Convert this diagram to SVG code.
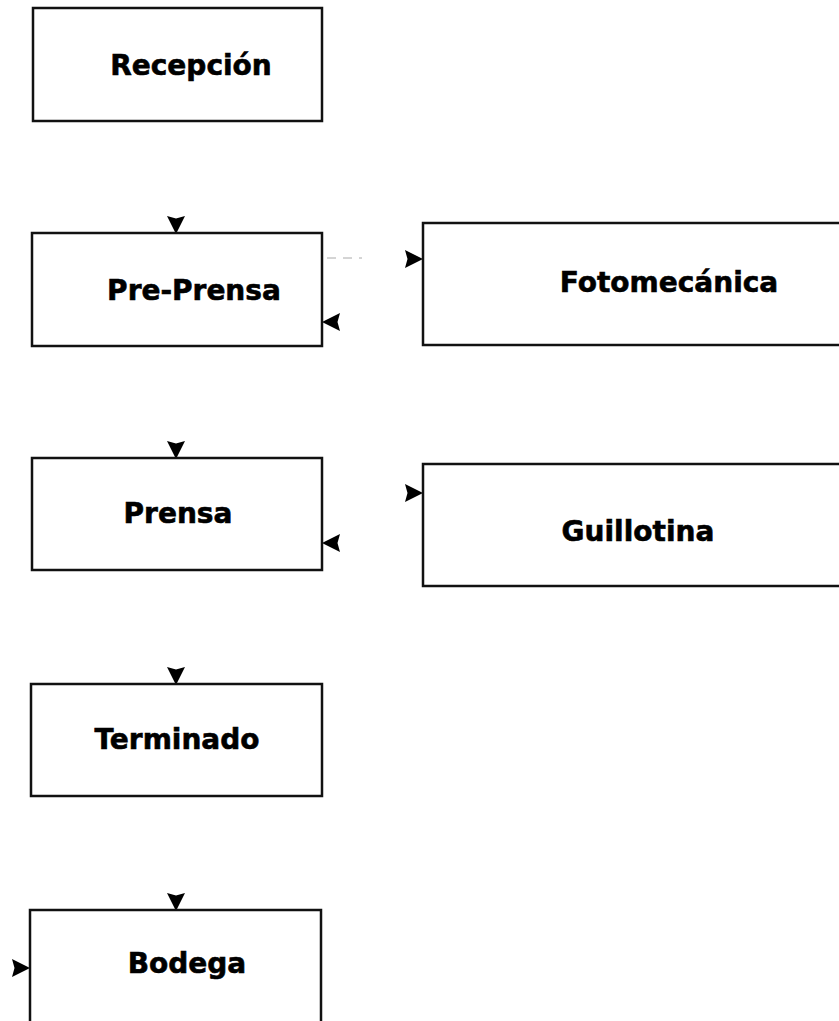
<svg xmlns="http://www.w3.org/2000/svg" width="839" height="1021" viewBox="0 0 839 1021">
<style>
.box{fill:#fff;stroke:#111;stroke-width:2.5}
.lbl{font-family:"DejaVu Sans","Liberation Sans",sans-serif;font-weight:bold;font-size:28px;fill:#000;stroke:#000;stroke-width:0.6;text-anchor:middle}
.conn{fill:none;stroke:none}
.faint{fill:none;stroke:#aaa;stroke-width:1;stroke-dasharray:9 7}
</style>
<defs>
<marker id="ah" markerUnits="userSpaceOnUse" markerWidth="22" markerHeight="22" refX="18" refY="9" orient="auto" overflow="visible">
<path d="M0,0 L18,9 L0,18 L2.5,9 Z" fill="#000"/>
</marker>
</defs>
<rect width="839" height="1021" fill="#fff"/>
<g id="connectors">
<path class="conn" d="M176,200 L176,234" marker-end="url(#ah)"/>
<path class="faint" d="M327,258 L362,258"/>
<path class="conn" d="M380,259 L423,259" marker-end="url(#ah)"/>
<path class="conn" d="M380,322 L322,322" marker-end="url(#ah)"/>
<path class="conn" d="M176,420 L176,459" marker-end="url(#ah)"/>
<path class="conn" d="M380,493 L423,493" marker-end="url(#ah)"/>
<path class="conn" d="M360,543 L322,543" marker-end="url(#ah)"/>
<path class="conn" d="M176,640 L176,685" marker-end="url(#ah)"/>
<path class="conn" d="M176,860 L176,911" marker-end="url(#ah)"/>
<path class="conn" d="M0,968 L30,968" marker-end="url(#ah)"/>
</g>
<g id="recepcion">
<rect class="box" x="33" y="8" width="289" height="113"/>
<text class="lbl" x="191" y="75">Recepción</text>
</g>
<g id="preprensa">
<rect class="box" x="32" y="233" width="290" height="113"/>
<text class="lbl" x="194" y="300">Pre-Prensa</text>
</g>
<g id="fotomecanica">
<rect class="box" x="423" y="223" width="430" height="122"/>
<text class="lbl" x="669" y="292">Fotomecánica</text>
</g>
<g id="prensa">
<rect class="box" x="32" y="458" width="290" height="112"/>
<text class="lbl" x="178" y="523">Prensa</text>
</g>
<g id="guillotina">
<rect class="box" x="423" y="464" width="430" height="122"/>
<text class="lbl" x="638" y="541">Guillotina</text>
</g>
<g id="terminado">
<rect class="box" x="31" y="684" width="291" height="112"/>
<text class="lbl" x="177" y="749">Terminado</text>
</g>
<g id="bodega">
<rect class="box" x="30" y="910" width="291" height="130"/>
<text class="lbl" x="187" y="973">Bodega</text>
</g>
</svg>
